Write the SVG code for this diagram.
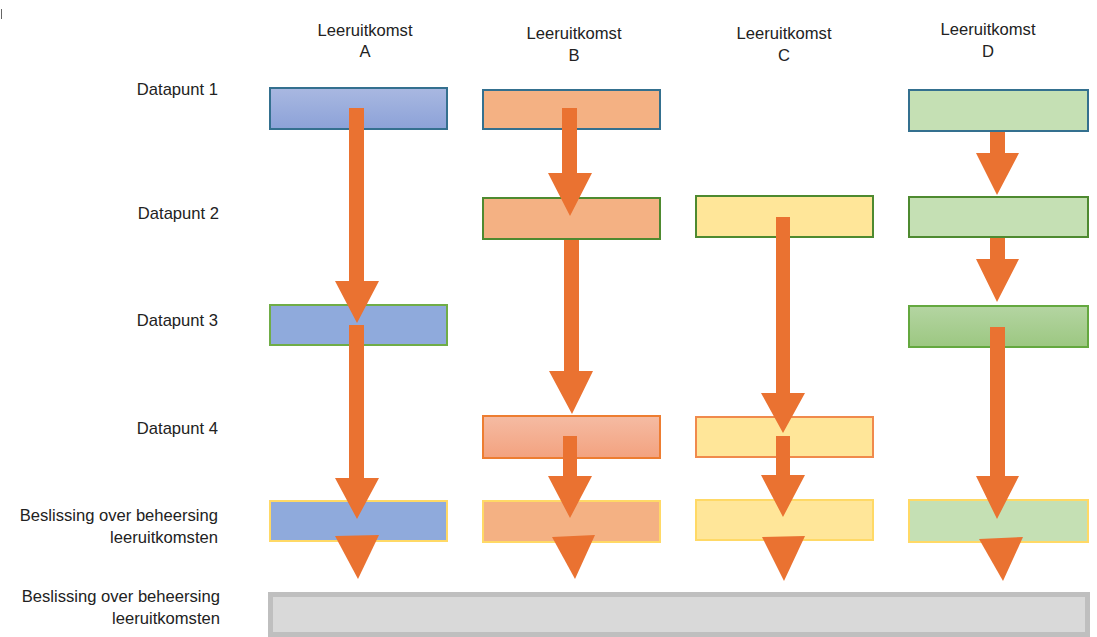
<svg xmlns="http://www.w3.org/2000/svg" width="1097" height="637" viewBox="0 0 1097 637">
<defs>
<linearGradient id="gA1" x1="0" y1="0" x2="0" y2="1"><stop offset="0" stop-color="#a9b8e1"/><stop offset="1" stop-color="#8ca2d8"/></linearGradient>
<linearGradient id="gB4" x1="0" y1="0" x2="0" y2="1"><stop offset="0" stop-color="#f5bba3"/><stop offset="1" stop-color="#f3a27f"/></linearGradient>
<linearGradient id="gD3" x1="0" y1="0" x2="0" y2="1"><stop offset="0" stop-color="#b4d5a2"/><stop offset="1" stop-color="#9cc781"/></linearGradient>
</defs>
<style>
text{font-family:"Liberation Sans",Arial,sans-serif;font-size:16.6px;fill:#222222}
.hd{text-anchor:middle}
.rl{text-anchor:end}
.box{stroke-width:2}
.blue{fill:#8faadc}
.peach{fill:#f4b183}
.yel{fill:#ffe699}
.grn{fill:#c5e0b4}
.sb{stroke:#34708f}
.sg{stroke:#4e8a30}
.sl{stroke:#70ad47}
.sy{stroke:#ffd966}
.so{stroke:#f08a4c}
.arr{fill:#ea7231}
</style>
<rect width="1097" height="637" fill="#ffffff"/>
<line x1="1.5" y1="9" x2="1.5" y2="19" stroke="#666" stroke-width="1"/>

<g id="headers">
<text class="hd" x="365" y="36">Leeruitkomst</text><text class="hd" x="365" y="57">A</text>
<text class="hd" x="574" y="39">Leeruitkomst</text><text class="hd" x="574" y="61">B</text>
<text class="hd" x="784" y="39">Leeruitkomst</text><text class="hd" x="784" y="61">C</text>
<text class="hd" x="988" y="35">Leeruitkomst</text><text class="hd" x="988" y="57">D</text>
</g>
<g id="row-labels">
<text class="rl" x="218" y="95">Datapunt 1</text>
<text class="rl" x="219" y="219">Datapunt 2</text>
<text class="rl" x="218" y="326">Datapunt 3</text>
<text class="rl" x="218" y="434">Datapunt 4</text>
<text class="rl" x="218" y="521">Beslissing over beheersing</text>
<text class="rl" x="218" y="543">leeruitkomsten</text>
<text class="rl" x="220" y="602">Beslissing over beheersing</text>
<text class="rl" x="220" y="624">leeruitkomsten</text>
</g>

<g id="A1"><rect class="box sb" x="270" y="88" width="177" height="41" fill="url(#gA1)"/></g>
<g id="A3"><rect class="box blue sl" x="270" y="305" width="177" height="40"/></g>
<g id="A5"><rect class="box blue sy" x="270" y="501" width="177" height="40"/></g>

<g id="B1"><rect class="box peach sb" x="483" y="90" width="177" height="39"/></g>
<g id="B2"><rect class="box peach sg" x="483" y="198" width="177" height="41"/></g>
<g id="B4"><rect class="box" x="483" y="416" width="177" height="42" fill="url(#gB4)" stroke="#ed7d31"/></g>
<g id="B5"><rect class="box peach sy" x="483" y="501" width="177" height="41"/></g>

<g id="C2"><rect class="box yel sg" x="696" y="196" width="177" height="41"/></g>
<g id="C4"><rect class="box yel so" x="696" y="417" width="177" height="40"/></g>
<g id="C5"><rect class="box yel sy" x="696" y="500" width="177" height="40"/></g>

<g id="D1"><rect class="box grn sb" x="909" y="90" width="179" height="41"/></g>
<g id="D2"><rect class="box grn sg" x="909" y="197" width="179" height="40"/></g>
<g id="D3"><rect class="box" x="909" y="306" width="179" height="41" fill="url(#gD3)" stroke="#64a83f"/></g>
<g id="D4"><rect class="box grn sy" x="909" y="500" width="179" height="42"/></g>

<g id="decision-bar"><rect x="270.5" y="594.5" width="817" height="40" fill="#d9d9d9" stroke="#bfbfbf" stroke-width="5"/></g>

<g id="connectors">
<polygon class="arr" points="349,108 364,108 364,281 379,281 357,323 335,281 349,281"/>
<polygon class="arr" points="349,325 364,325 364,478 379,478 357,519 335,478 349,478"/>
<polygon class="arr" points="335,536 379,535 358,579"/>

<polygon class="arr" points="562,108 577,108 577,173 592,173 570,216 548,173 562,173"/>
<polygon class="arr" points="564,240 579,240 579,371 593,371 572,414 549,371 564,371"/>
<polygon class="arr" points="563,436 577,436 577,476 592,476 570,518 548,476 563,476"/>
<polygon class="arr" points="552,537 595,535 575,579"/>

<polygon class="arr" points="776,217 790,217 790,393 805,393 783,433 761,393 776,393"/>
<polygon class="arr" points="776,436 790,436 790,475 805,475 783,517 761,475 776,475"/>
<polygon class="arr" points="762,537 805,536 784,581"/>

<polygon class="arr" points="990,132 1005,132 1005,153 1019,153 997,195 976,153 990,153"/>
<polygon class="arr" points="990,238 1005,238 1005,259 1019,259 997,302 976,259 990,259"/>
<polygon class="arr" points="990,327 1005,327 1005,476 1019,476 997,519 976,476 990,476"/>
<polygon class="arr" points="979,539 1023,537 1003,581"/>
</g>
</svg>
